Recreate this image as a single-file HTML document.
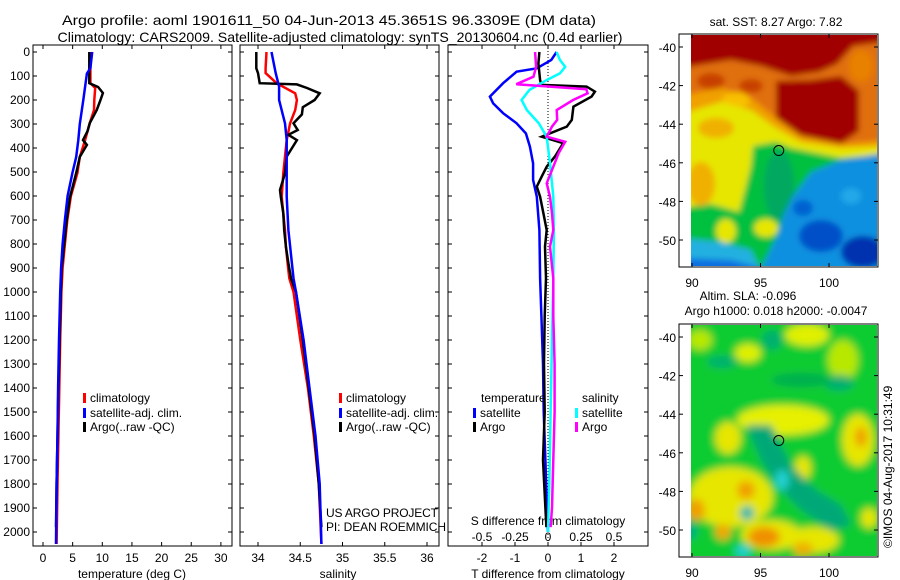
<!DOCTYPE html>
<html><head><meta charset="utf-8">
<style>
html,body{margin:0;padding:0;background:#fff;}
svg{display:block;font-family:"Liberation Sans",sans-serif;}
text{fill:#000;}
</style></head>
<body>
<svg id="fig" width="900" height="580" viewBox="0 0 900 580" xmlns="http://www.w3.org/2000/svg">
<defs>
<filter id="b1" x="-5%" y="-5%" width="110%" height="110%"><feGaussianBlur stdDeviation="3"/></filter>
<filter id="b2" x="-5%" y="-5%" width="110%" height="110%"><feGaussianBlur stdDeviation="4"/></filter>
<clipPath id="c1"><rect x="691" y="35" width="186" height="231"/></clipPath>
<clipPath id="c2"><rect x="691" y="325" width="186" height="231"/></clipPath>
</defs>
<text x="329" y="25" font-size="14" text-anchor="middle" textLength="534" lengthAdjust="spacingAndGlyphs">Argo profile: aoml 1901611_50 04-Jun-2013 45.3651S 96.3309E (DM data)</text>
<text x="340" y="42" font-size="14" text-anchor="middle" textLength="565" lengthAdjust="spacingAndGlyphs">Climatology: CARS2009. Satellite-adjusted climatology: synTS_20130604.nc (0.4d earlier)</text>

<!-- Map 1 SST -->
<g>
<rect x="679" y="34" width="199" height="233" fill="#fff" stroke="#000" stroke-width="1"/>
<g clip-path="url(#c1)"><g transform="translate(691,36)" filter="url(#b1)">
<rect x="-10" y="-10" width="210" height="250" fill="#e07010"/>
<polygon fill="#a00000" points="-10,-10 200,-10 200,5 162,10 146,28 128,36 100,40 70,30 40,24 -10,32"/>
<polygon fill="#a00000" points="85,45 120,44 150,40 168,55 168,95 150,108 110,100 85,85"/>
<ellipse cx="20" cy="45" rx="14" ry="8" fill="#c84000"/>
<ellipse cx="60" cy="50" rx="12" ry="7" fill="#c84000"/>
<ellipse cx="170" cy="30" rx="12" ry="16" fill="#e88000"/>
<polygon fill="#f0a000" points="-10,60 30,52 60,62 85,82 110,100 150,108 200,104 200,240 -10,240"/>
<ellipse cx="45" cy="64" rx="14" ry="8" fill="#f8c000"/>
<polygon fill="#e6e600" points="-10,78 30,66 60,74 85,92 110,106 150,112 200,110 200,240 -10,240"/>
<ellipse cx="25" cy="92" rx="18" ry="10" fill="#f0b000"/>
<polygon fill="#00c040" points="62,110 85,106 100,112 130,118 150,122 200,118 200,240 -10,240 -10,172 20,168 48,176 55,150 60,130"/>
<ellipse cx="10" cy="148" rx="14" ry="22" fill="#f0b000"/>
<ellipse cx="40" cy="150" rx="10" ry="18" fill="#e6e600"/>
<ellipse cx="35" cy="195" rx="10" ry="12" fill="#e6e600"/>
<ellipse cx="75" cy="192" rx="12" ry="9" fill="#e6e600"/>
<ellipse cx="88" cy="150" rx="15" ry="35" fill="#00a860"/>
<polygon fill="#1090e0" points="200,116 150,124 120,136 102,160 92,180 86,200 76,220 66,240 200,240"/>
<ellipse cx="130" cy="200" rx="22" ry="16" fill="#0050c8"/>
<ellipse cx="172" cy="216" rx="22" ry="16" fill="#0030b0"/>
<ellipse cx="112" cy="172" rx="10" ry="8" fill="#0060d0"/>
<ellipse cx="160" cy="160" rx="10" ry="8" fill="#20a8e8"/>
<polygon fill="#20b0e0" points="-10,202 30,206 60,214 72,240 -10,240"/>
<polygon fill="#1070e0" points="-10,222 40,224 70,232 72,240 -10,240"/>
</g></g>
<text x="776" y="26" font-size="12" text-anchor="middle">sat. SST: 8.27 Argo: 7.82</text>
</g>

<!-- Map 2 SLA -->
<g>
<rect x="679" y="324" width="199" height="233" fill="#fff" stroke="#000" stroke-width="1"/>
<g clip-path="url(#c2)"><g transform="translate(691,325)" filter="url(#b2)">
<rect x="-10" y="-10" width="210" height="250" fill="#10cc30"/>
<ellipse cx="9" cy="15" rx="12" ry="10" fill="#b8e800"/>
<ellipse cx="57" cy="28" rx="13" ry="9" fill="#e0f000"/>
<ellipse cx="116" cy="10" rx="22" ry="11" fill="#e0f000"/>
<ellipse cx="152" cy="35" rx="15" ry="20" fill="#b8e800"/>
<ellipse cx="92" cy="95" rx="46" ry="15" fill="#e6f000"/>
<ellipse cx="37" cy="113" rx="13" ry="16" fill="#e6e600"/>
<ellipse cx="167" cy="115" rx="16" ry="26" fill="#e6e600"/>
<ellipse cx="170" cy="112" rx="6" ry="10" fill="#f0a000"/>
<ellipse cx="40" cy="172" rx="42" ry="30" fill="#e6e600"/>
<ellipse cx="55" cy="165" rx="9" ry="9" fill="#f0a000"/>
<ellipse cx="5" cy="185" rx="9" ry="11" fill="#f0a000"/>
<ellipse cx="32" cy="207" rx="8" ry="8" fill="#f0a800"/>
<ellipse cx="80" cy="210" rx="30" ry="15" fill="#e6e600"/>
<ellipse cx="73" cy="212" rx="16" ry="10" fill="#f09000"/>
<ellipse cx="122" cy="215" rx="26" ry="13" fill="#e6e600"/>
<ellipse cx="112" cy="224" rx="10" ry="7" fill="#f0b000"/>
<ellipse cx="178" cy="193" rx="8" ry="10" fill="#e6e600"/>
<ellipse cx="112" cy="143" rx="8" ry="12" fill="#e6e600"/>
<ellipse cx="31" cy="37" rx="15" ry="6" fill="#00b070"/>
<ellipse cx="81" cy="15" rx="10" ry="10" fill="#00b070"/>
<ellipse cx="148" cy="58" rx="15" ry="8" fill="#00b070"/>
<ellipse cx="110" cy="55" rx="30" ry="7" fill="#00b050"/>
<polygon fill="#00a878" points="55,100 80,100 100,140 125,165 150,180 160,200 140,205 110,185 85,160 70,135"/>
<ellipse cx="91" cy="155" rx="7" ry="10" fill="#20d0d0"/>
<ellipse cx="56" cy="188" rx="7" ry="7" fill="#10b8b0"/>
<ellipse cx="52" cy="226" rx="8" ry="6" fill="#20d0d0"/>
<ellipse cx="0" cy="205" rx="6" ry="10" fill="#00b080"/>
</g></g>
<text x="748" y="300" font-size="12" text-anchor="middle">Altim. SLA: -0.096</text>
<text x="776" y="315" font-size="12" text-anchor="middle">Argo h1000: 0.018 h2000: -0.0047</text>
<text transform="translate(892,548) rotate(-90)" font-size="12">©IMOS 04-Aug-2017 10:31:49</text>
</g>
<g id="dyn"></g>
</svg>
<script>
// ---- Profile data (pressure in dbar) ----
const depthTicks = [0,100,200,300,400,500,600,700,800,900,1000,1100,1200,1300,1400,1500,1600,1700,1800,1900,2000];
const tempTicks = [0,5,10,15,20,25,30];
const salTicks = [34,34.5,35,35.5,36];
const salTickLabels = ["34","34.5","35","35.5","36"];
const dTTicks = [-2,-1,0,1,2];
const dSTicks = [-0.5,-0.25,0,0.25,0.5];
const dSTickLabels = ["-0.5","-0.25","0","0.25","0.5"];

const tempArgoP = [0,60,130,146,171,200,242,296,330,367,387,437,504,604,700,796,900,1000,1200,1400,1600,1800,1980];
const tempArgoV = [7.8,7.8,7.8,9.3,10.1,9.7,9.05,7.9,7.5,6.75,7.4,6.2,5.6,4.55,4.0,3.6,3.15,3.0,2.8,2.6,2.45,2.3,2.2];
const tempClimP = [0,130,150,200,242,296,367,437,504,600,700,800,900,1000,1200,1400,1600,1800,2050];
const tempClimV = [8.0,8.0,8.8,8.65,8.6,7.9,7.1,6.2,5.8,4.7,4.1,3.7,3.3,3.1,2.9,2.75,2.6,2.45,2.3];
const tempSatP = [0,67,90,200,300,367,437,504,600,700,800,900,1000,1200,1400,1600,1800,2050];
const tempSatV = [8.3,8.0,7.4,6.8,6.2,5.95,5.6,4.95,4.15,3.7,3.3,3.05,2.9,2.7,2.55,2.45,2.3,2.2];

const salArgoP = [0,68,88,130,135,150,172,200,230,260,297,325,345,367,390,436,505,575,603,672,742,811,880,943,1000,1200,1400,1600,1800,1980];
const salArgoV = [33.98,33.98,34.0,34.02,34.46,34.58,34.73,34.67,34.53,34.52,34.42,34.47,34.36,34.46,34.42,34.34,34.32,34.26,34.27,34.30,34.31,34.33,34.36,34.39,34.45,34.53,34.60,34.67,34.72,34.75];
const salClimP = [0,68,88,130,172,200,242,297,367,436,505,603,672,742,811,880,943,1000,1200,1400,1600,1800,2050];
const salClimV = [34.10,34.09,34.09,34.22,34.44,34.46,34.44,34.38,34.34,34.32,34.30,34.28,34.30,34.32,34.33,34.35,34.37,34.42,34.50,34.59,34.66,34.72,34.75];
const salSatP = [0,88,144,200,297,367,505,603,742,943,1000,1200,1400,1600,1800,2050];
const salSatV = [34.16,34.21,34.25,34.25,34.32,34.34,34.34,34.34,34.36,34.42,34.45,34.54,34.61,34.68,34.73,34.75];

const dTsatP = [0,33,68,82,130,186,214,255,297,339,394,464,533,603,742,943,1100,1300,1500,1700,1900,2000];
const dTsatV = [0.26,0.1,-0.34,-0.95,-1.36,-1.76,-1.66,-1.36,-0.95,-0.67,-0.55,-0.45,-0.45,-0.34,-0.26,-0.24,-0.2,-0.15,-0.13,-0.08,-0.03,0];
const dTargoP = [0,48,117,137,144,165,186,228,283,311,353,380,436,478,519,561,603,672,742,811,943,1100,1300,1500,1700,1900,1980];
const dTargoV = [-0.26,-0.29,-0.24,-0.2,1.17,1.42,1.32,0.77,0.72,0.57,-0.19,0.46,0.21,-0.04,-0.19,-0.34,-0.24,-0.14,-0.04,-0.09,-0.06,-0.1,-0.12,-0.1,-0.15,-0.08,-0.05];
const dSargoP = [0,62,103,134,144,155,172,200,242,283,311,353,374,422,478,547,603,672,742,811,943,1100,1300,1500,1700,1900,1980];
const dSargoV = [-0.098,-0.09,-0.11,-0.24,0.015,0.29,0.3,0.19,0.066,0.07,0.03,-0.01,0.13,0.08,0.04,-0.01,0.015,0.03,0.04,0.015,0.04,0.04,0.05,0.05,0.04,0.03,0.02];
const dSsatP = [0,33,62,89,117,158,200,242,297,353,464,603,742,943,1200,1500,1800,2000];
const dSsatV = [0.065,0.09,0.13,0.09,-0.01,-0.14,-0.2,-0.16,-0.07,-0.01,0.015,0.04,0.045,0.04,0.03,0.02,0.01,0.0];

const mapLonTicks = [90,95,100];
const mapLatTicks = [-40,-42,-44,-46,-48,-50];
const argoLon = 96.3309, argoLat = -45.3651;

const NS = "http://www.w3.org/2000/svg";
const root = document.getElementById('dyn');
function mk(tag, attrs, parent){ const e=document.createElementNS(NS,tag); for(const k in attrs) e.setAttribute(k,attrs[k]); (parent||root).appendChild(e); return e; }
function txt(x,y,s,size,anchor,parent){ const t=mk('text',{x:x,y:y,'font-size':size,'text-anchor':anchor||'start'},parent); t.textContent=s; return t; }

const PTOP=45, PBOT=546;
function yP(p){ return 52 + 0.24*p; }
const panels = {
  temp:{x0:33,x1:232,f:v=>43+5.93*v},
  sal:{x0:240,x1:439,f:v=>258+84.5*(v-34)},
  diff:{x0:448,x1:648,f:v=>548+33*v},
};
const fS = v=>548+132*v;

for(const key in panels){
  const P=panels[key];
  const g=mk('g',{});
  
  
  const r=mk('rect',{x:P.x0,y:PTOP,width:P.x1-P.x0,height:PBOT-PTOP,fill:'#fff',stroke:'#000','stroke-width':1},g);
  
  
  depthTicks.forEach(p=>{
    mk('line',{x1:P.x0,x2:P.x0+4,y1:yP(p),y2:yP(p),stroke:'#000'},g);
    mk('line',{x1:P.x1-4,x2:P.x1,y1:yP(p),y2:yP(p),stroke:'#000'},g);
  });
}
depthTicks.forEach(p=>{
  const t=txt(30,yP(p)+4,String(p),12,'end');
  
  
});
tempTicks.forEach(v=>{
  const x=panels.temp.f(v);
  mk('line',{x1:x,x2:x,y1:PTOP,y2:PTOP+4,stroke:'#000'});
  mk('line',{x1:x,x2:x,y1:PBOT-4,y2:PBOT,stroke:'#000'});
  const t=txt(x,562,String(v),12,'middle');
  
  
});
let t=txt(132,578,'temperature (deg C)',12,'middle');


salTicks.forEach((v,i)=>{
  const x=panels.sal.f(v);
  mk('line',{x1:x,x2:x,y1:PTOP,y2:PTOP+4,stroke:'#000'});
  mk('line',{x1:x,x2:x,y1:PBOT-4,y2:PBOT,stroke:'#000'});
  const t=txt(x,562,salTickLabels[i],12,'middle');
  
  
});
t=txt(338,578,'salinity',12,'middle');


dTTicks.forEach(v=>{
  const x=panels.diff.f(v);
  mk('line',{x1:x,x2:x,y1:PTOP,y2:PTOP+4,stroke:'#000'});
  mk('line',{x1:x,x2:x,y1:PBOT-4,y2:PBOT,stroke:'#000'});
  const t=txt(x,562,String(v),12,'middle');
  
  
});
dSTicks.forEach((v,i)=>{
  const t=txt(fS(v),541,dSTickLabels[i],12,'middle');
  
  
});
t=txt(548,525,'S difference from climatology',12,'middle');


t=txt(548,578,'T difference from climatology',12,'middle');


const zl=mk('line',{x1:548,x2:548,y1:PTOP,y2:PBOT,stroke:'#000','stroke-dasharray':'1,2'});



function series(P,V,fx,color,name){
  const pts=P.map((p,i)=>fx(V[i]).toFixed(1)+','+yP(p).toFixed(1)).join(' ');
  const l=mk('polyline',{points:pts,fill:'none',stroke:color,'stroke-width':2.5,'stroke-linejoin':'miter'});
  
  
}
series(tempClimP,tempClimV,panels.temp.f,'#ff0000','temp-climatology-line');
series(tempArgoP,tempArgoV,panels.temp.f,'#000','temp-argo-line');
series(tempSatP,tempSatV,panels.temp.f,'#0000ff','temp-satellite-line');
series(salClimP,salClimV,panels.sal.f,'#ff0000','sal-climatology-line');
series(salArgoP,salArgoV,panels.sal.f,'#000','sal-argo-line');
series(salSatP,salSatV,panels.sal.f,'#0000ff','sal-satellite-line');
series(dTsatP,dTsatV,panels.diff.f,'#0000ff','t-diff-satellite-line');
series(dTargoP,dTargoV,panels.diff.f,'#000','t-diff-argo-line');
series(dSsatP,dSsatV,fS,'#00ffff','s-diff-satellite-line');
series(dSargoP,dSargoV,fS,'#ff00ff','s-diff-argo-line');

function legItem(x,y,color,label,name){
  const r=mk('rect',{x:x,y:y-9,width:3,height:10,fill:color});
  
  
  const t=txt(x+7,y,label,12,'start');
  
  
}
[[83,'temp'],[339,'sal']].forEach(([x,k])=>{
  legItem(x,402,'#ff0000','climatology',k+'-legend-climatology');
  legItem(x,417,'#0000ff','satellite-adj. clim.',k+'-legend-satellite');
  legItem(x,431,'#000','Argo(..raw -QC)',k+'-legend-argo');
});
t=txt(481,402,'temperature',12,'start');


t=txt(582,402,'salinity',12,'start');


legItem(473,417,'#0000ff','satellite','diff-legend-t-satellite');
legItem(473,431,'#000','Argo','diff-legend-t-argo');
legItem(575,417,'#00ffff','satellite','diff-legend-s-satellite');
legItem(575,431,'#ff00ff','Argo','diff-legend-s-argo');
t=txt(326,517,'US ARGO PROJECT',12,'start');


t.setAttribute('textLength', '112');
t=txt(326,531,'PI: DEAN ROEMMICH',12,'start');


t.setAttribute('textLength', '120');

const lonX = lon=>692+13.7*(lon-90);
[[47,34,267,'sst'],[337,324,557,'sla']].forEach(([y40,top,bot,k])=>{
  const latY = lat=>y40+19.3*(-40-lat);
  mapLonTicks.forEach(lon=>{
    const x=lonX(lon);
    mk('line',{x1:x,x2:x,y1:top,y2:top+4,stroke:'#000'});
    mk('line',{x1:x,x2:x,y1:bot-4,y2:bot,stroke:'#000'});
    const t=txt(x,bot+20,String(lon),12,'middle');
    
    
  });
  mapLatTicks.forEach(lat=>{
    const y=latY(lat);
    mk('line',{x1:679,x2:683,y1:y,y2:y,stroke:'#000'});
    mk('line',{x1:874,x2:878,y1:y,y2:y,stroke:'#000'});
    const t=txt(676,y+5,String(lat),12,'end');
    
    
  });
  const c=mk('circle',{cx:lonX(argoLon),cy:latY(argoLat),r:5,fill:'none',stroke:'#000','stroke-width':1});
  
  
});
</script>
</body></html>
